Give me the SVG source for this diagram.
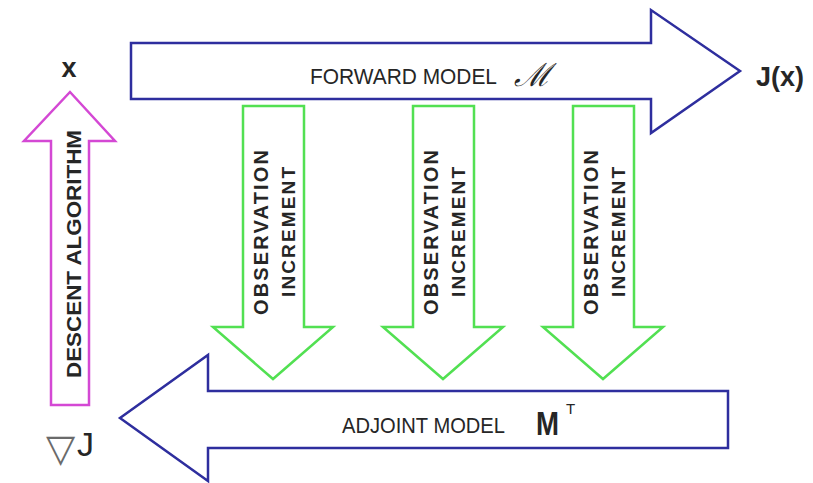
<svg xmlns="http://www.w3.org/2000/svg" width="813" height="483" viewBox="0 0 813 483">
<style>
.blue{fill:#ffffff;stroke:#2e2e9e;stroke-width:2.5;stroke-linejoin:miter}
.mag{fill:#ffffff;stroke:#d448d4;stroke-width:2.5}
.grn{fill:#ffffff;stroke:#52e052;stroke-width:2.5}
.t{font-family:"Liberation Sans",Arial,sans-serif;fill:#262626}
.b{font-weight:bold}
</style>
<rect width="813" height="483" fill="#ffffff"/>
<g id="forward">
<polygon class="blue" points="131,43 651,43 651,10 740,71 651,133 651,99 131,99"/>
<text class="t" x="310" y="84" font-size="22" textLength="187" lengthAdjust="spacingAndGlyphs">FORWARD MODEL</text>
<text x="514" y="86" font-size="32" font-family="DejaVu Serif,serif" font-style="italic" fill="#262626">ℳ</text>
</g>
<g id="jx">
<text class="t b" x="756" y="86" font-size="27">J(x)</text>
</g>
<g id="adjoint">
<polygon class="blue" points="728,391 208,391 208,355 120,418 208,481 208,448 728,448"/>
<text class="t" x="342" y="433" font-size="22" textLength="163" lengthAdjust="spacingAndGlyphs">ADJOINT MODEL</text>
<text class="t b" x="536" y="435" font-size="34" textLength="23" lengthAdjust="spacingAndGlyphs">M</text>
<text class="t" x="566" y="414" font-size="15">T</text>
</g>
<g id="descent">
<polygon class="mag" points="70,92 115,141 89,141 89,405 51,405 51,141 24,141"/>
<text class="t b" transform="translate(81,378) rotate(-90)" font-size="21" textLength="248" lengthAdjust="spacingAndGlyphs">DESCENT ALGORITHM</text>
</g>
<g id="x-label">
<text class="t b" x="69" y="77" font-size="27" text-anchor="middle">x</text>
</g>
<g id="gradJ">
<text x="46" y="461" font-size="38" font-family="DejaVu Sans,sans-serif" fill="#6a6a6a">▽</text>
<text class="t" x="77" y="456" font-size="34" fill="#333333">J</text>
</g>
<g id="obs1">
<polygon class="grn" points="243,106 304,106 304,327 333,327 273,379 213,327 243,327"/>
<text class="t b" transform="translate(268,315) rotate(-90)" font-size="20" textLength="165" lengthAdjust="spacing">OBSERVATION</text>
<text class="t b" transform="translate(295,297) rotate(-90)" font-size="19" textLength="130" lengthAdjust="spacing">INCREMENT</text>
</g>
<g id="obs2">
<polygon class="grn" points="413,106 474,106 474,327 503,327 443,379 383,327 413,327"/>
<text class="t b" transform="translate(438,315) rotate(-90)" font-size="20" textLength="165" lengthAdjust="spacing">OBSERVATION</text>
<text class="t b" transform="translate(465,297) rotate(-90)" font-size="19" textLength="130" lengthAdjust="spacing">INCREMENT</text>
</g>
<g id="obs3">
<polygon class="grn" points="573,106 634,106 634,327 663,327 603,379 543,327 573,327"/>
<text class="t b" transform="translate(598,315) rotate(-90)" font-size="20" textLength="165" lengthAdjust="spacing">OBSERVATION</text>
<text class="t b" transform="translate(625,297) rotate(-90)" font-size="19" textLength="130" lengthAdjust="spacing">INCREMENT</text>
</g>
<g id="connectors"></g>
</svg>
